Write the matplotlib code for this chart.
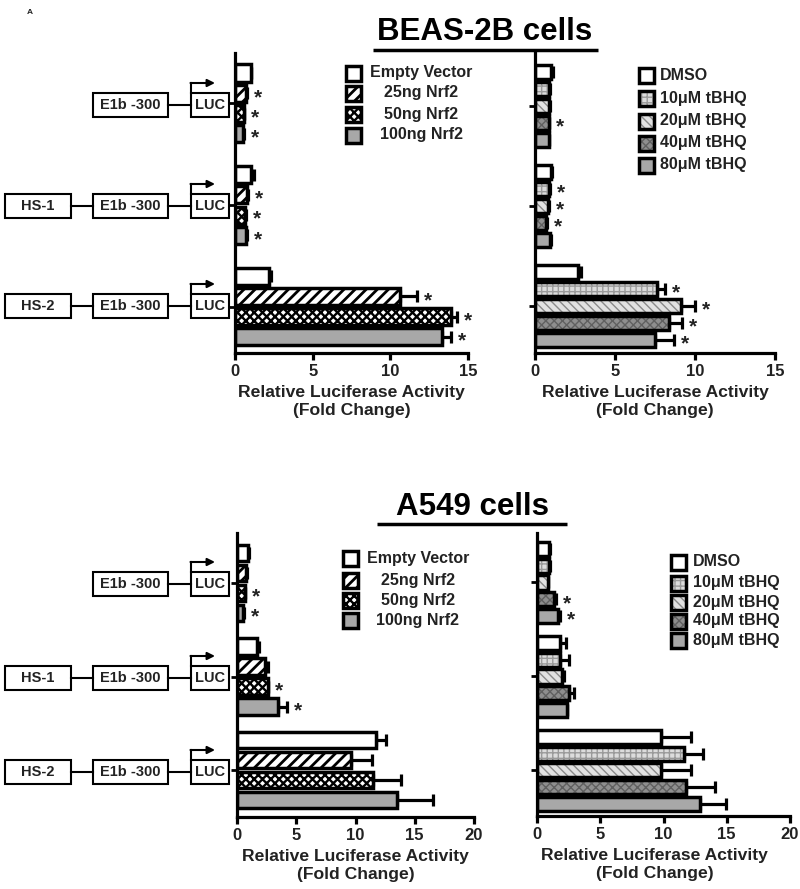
import matplotlib
matplotlib.use("Agg")
import matplotlib.pyplot as plt
from matplotlib.patches import Rectangle
import numpy as np

plt.rcParams['font.family'] = ['Liberation Sans', 'DejaVu Sans']
plt.rcParams['font.weight'] = 'bold'
plt.rcParams['axes.labelweight'] = 'bold'
plt.rcParams['hatch.linewidth'] = 1.0

# ---------------- data ----------------
constructs = ["E1b -300", "HS-1", "HS-2"]

nrf2_labels = ["Empty Vector", "25ng Nrf2", "50ng Nrf2", "100ng Nrf2"]
tbhq_labels = ["DMSO", "10\u03bcM tBHQ", "20\u03bcM tBHQ", "40\u03bcM tBHQ", "80\u03bcM tBHQ"]

# BEAS-2B, Nrf2 transfection (E1b-300, HS-1, HS-2)
beas_empty = [1.0, 1.05, 2.2]
beas_25ng = [0.7, 0.8, 10.6]
beas_50ng = [0.55, 0.65, 13.9]
beas_100ng = [0.5, 0.7, 13.3]
beas_empty_err = [0.05, 0.15, 0.1]
beas_25ng_err = [0.05, 0.05, 1.1]
beas_50ng_err = [0.05, 0.05, 0.4]
beas_100ng_err = [0.05, 0.05, 0.6]
beas_nrf2_sig = [[0, 0, 0], [1, 1, 1], [1, 1, 1], [1, 1, 1]]

# BEAS-2B, tBHQ
beas_dmso = [1.0, 1.0, 2.7]
beas_10uM = [0.9, 0.85, 7.6]
beas_20uM = [0.9, 0.8, 9.15]
beas_40uM = [0.85, 0.7, 8.4]
beas_80uM = [0.85, 0.95, 7.5]
beas_dmso_err = [0.1, 0.05, 0.2]
beas_10uM_err = [0.05, 0.1, 0.5]
beas_20uM_err = [0.05, 0.05, 0.85]
beas_40uM_err = [0.05, 0.05, 0.8]
beas_80uM_err = [0.05, 0.05, 1.2]
beas_tbhq_sig = [[0, 0, 0], [0, 1, 1], [0, 1, 1], [1, 1, 1], [0, 0, 1]]

# A549, Nrf2 transfection
a549_empty = [0.9, 1.7, 11.7]
a549_25ng = [0.8, 2.35, 9.6]
a549_50ng = [0.65, 2.6, 11.5]
a549_100ng = [0.5, 3.5, 13.5]
a549_empty_err = [0.15, 0.15, 0.85]
a549_25ng_err = [0.05, 0.3, 1.8]
a549_50ng_err = [0.05, 0.05, 2.35]
a549_100ng_err = [0.05, 0.75, 3.0]
a549_nrf2_sig = [[0, 0, 0], [0, 0, 0], [1, 1, 0], [1, 1, 0]]

# A549, tBHQ
a549_dmso = [0.95, 1.85, 9.8]
a549_10uM = [0.95, 1.85, 11.6]
a549_20uM = [0.85, 2.0, 9.8]
a549_40uM = [1.35, 2.5, 11.8]
a549_80uM = [1.65, 2.35, 12.9]
a549_dmso_err = [0.05, 0.45, 2.35]
a549_10uM_err = [0.05, 0.7, 1.5]
a549_20uM_err = [0.05, 0.15, 2.4]
a549_40uM_err = [0.15, 0.4, 2.3]
a549_80uM_err = [0.15, 0.05, 2.05]
a549_tbhq_sig = [[0, 0, 0], [0, 0, 0], [0, 0, 0], [1, 0, 0], [1, 0, 0]]

# ---------------- styles ----------------
nrf2_styles = [
    dict(face='white', hatch=None, hc='black', hlw=1.0),
    dict(face='white', hatch='///', hc='black', hlw=2.0),
    dict(face='white', hatch='xxxx', hc='black', hlw=1.7),
    dict(face='#a8a8a8', hatch=None, hc='black', hlw=1.0),
]
tbhq_styles = [
    dict(face='white', hatch=None, hc='black', hlw=1.0),
    dict(face='#dcdcdc', hatch='+++', hc='#9a9a9a', hlw=1.0),
    dict(face='#e2e2e2', hatch='\\\\\\\\', hc='#8a8a8a', hlw=1.0),
    dict(face='#8e8e8e', hatch='xxxx', hc='#606060', hlw=1.0),
    dict(face='#a8a8a8', hatch=None, hc='black', hlw=1.0),
]

W, H = 800, 889
fig = plt.figure(figsize=(W / 100, H / 100), dpi=100)
TXT = '#222222'
EDGE_LW = 2.5


def set_hlw(patch, lw):
    try:
        patch.set_hatch_linewidth(lw)
    except AttributeError:
        pass


def axes_px(x0, x1, y0, y1):
    return fig.add_axes([x0 / W, 1 - y1 / H, (x1 - x0) / W, (y1 - y0) / H])


def draw_panel(ax, series, errs, sigs, styles, G, ylim, xmax, xticks, bh=0.84):
    n = len(series)
    for i, (vals, err, sig, sty) in enumerate(zip(series, errs, sigs, styles)):
        y = np.arange(3) * G + i
        ax.errorbar(vals, y, xerr=[np.zeros(3), err], fmt='none', ecolor='black',
                    elinewidth=2.3, capsize=4, capthick=2.3, zorder=1)
        bars = ax.barh(y, vals, height=bh, color=sty['face'], edgecolor=sty['hc'],
                       hatch=sty['hatch'], linewidth=0, zorder=2)
        for p in bars:
            set_hlw(p, sty['hlw'])
        ax.barh(y, vals, height=bh, fill=False, edgecolor='black',
                linewidth=EDGE_LW, zorder=3)
        for k in range(3):
            if sig[k]:
                ax.annotate('*', xy=(vals[k] + err[k], y[k]), xytext=(5, -3),
                            textcoords='offset points', ha='left', va='center',
                            fontsize=15, color=TXT)
    ax.set_xlim(0, xmax)
    ax.set_ylim(ylim)
    for s in ['top', 'right']:
        ax.spines[s].set_visible(False)
    for s in ['left', 'bottom']:
        ax.spines[s].set_linewidth(2.3)
    ax.set_xticks(xticks)
    ax.set_yticks(np.arange(3) * G + (n - 1) / 2)
    ax.set_yticklabels([])
    ax.tick_params(axis='x', length=5, width=2.3, labelsize=12, pad=3,
                   labelcolor=TXT)
    ax.tick_params(axis='y', length=4.5, width=2)
    ax.set_xlabel('Relative Luciferase Activity\n(Fold Change)', fontsize=12.6,
                  fontweight='bold', color=TXT, labelpad=4, linespacing=1.3)
    ax.set_facecolor('none')


# top-left
ax1 = axes_px(235, 468, 53, 353)
draw_panel(ax1, [beas_empty, beas_25ng, beas_50ng, beas_100ng],
           [beas_empty_err, beas_25ng_err, beas_50ng_err, beas_100ng_err],
           beas_nrf2_sig, nrf2_styles, 5.0, (13.79, -0.985), 15, [0, 5, 10, 15])
# top-right
ax2 = axes_px(535, 775, 53, 353)
draw_panel(ax2, [beas_dmso, beas_10uM, beas_20uM, beas_40uM, beas_80uM],
           [beas_dmso_err, beas_10uM_err, beas_20uM_err, beas_40uM_err, beas_80uM_err],
           beas_tbhq_sig, tbhq_styles, 5.88, (16.53, -1.12), 15, [0, 5, 10, 15])
# bottom-left
ax3 = axes_px(237, 474, 533, 817)
draw_panel(ax3, [a549_empty, a549_25ng, a549_50ng, a549_100ng],
           [a549_empty_err, a549_25ng_err, a549_50ng_err, a549_100ng_err],
           a549_nrf2_sig, nrf2_styles, 4.675, (13.2, -1.0), 20, [0, 5, 10, 15, 20])
# bottom-right
ax4 = axes_px(537, 790, 533, 816)
draw_panel(ax4, [a549_dmso, a549_10uM, a549_20uM, a549_40uM, a549_80uM],
           [a549_dmso_err, a549_10uM_err, a549_20uM_err, a549_40uM_err, a549_80uM_err],
           a549_tbhq_sig, tbhq_styles, 5.61, (15.94, -0.955), 20, [0, 5, 10, 15, 20])
ax4.xaxis.label.set_x(0.466)

# ---------------- overlay (pixel coords) ----------------
ov = fig.add_axes([0, 0, 1, 1], zorder=10)
ov.set_xlim(0, W)
ov.set_ylim(H, 0)
ov.axis('off')


def box(x0, x1, yc, label):
    ov.add_patch(Rectangle((x0, yc - 12), x1 - x0, 24, facecolor='white',
                           edgecolor='black', linewidth=1.5))
    ov.text((x0 + x1) / 2, yc, label, ha='center', va='center', fontsize=10.5,
            color=TXT)


def construct(yc, hs=None):
    if hs is not None:
        box(5, 71, yc, hs)
        ov.plot([71, 93], [yc, yc], color='black', lw=1.5)
    box(93, 168, yc, constructs[0])
    ov.plot([168, 191], [yc, yc], color='black', lw=1.5)
    box(191, 229, yc, "LUC")
    ov.plot([191, 191], [yc - 12, yc - 22], color='black', lw=1.5)
    ov.annotate('', xy=(215, yc - 22), xytext=(190.5, yc - 22),
                arrowprops=dict(arrowstyle='-|>', lw=1.5, color='black',
                                mutation_scale=11, shrinkA=0, shrinkB=0))


for yc, hs in zip([105, 206, 306], [None, constructs[1], constructs[2]]):
    construct(yc, hs)
for yc, hs in zip([584, 678, 772], [None, constructs[1], constructs[2]]):
    construct(yc, hs)


def legend(xsq, xtxt, rows, labels, styles, ha='left'):
    for yc, lab, sty in zip(rows, labels, styles):
        p = Rectangle((xsq - 7.5, yc - 7.5), 15, 15, facecolor=sty['face'],
                      edgecolor=sty['hc'], hatch=sty['hatch'], linewidth=0)
        set_hlw(p, sty['hlw'])
        ov.add_patch(p)
        ov.add_patch(Rectangle((xsq - 7.5, yc - 7.5), 15, 15, fill=False,
                               edgecolor='black', linewidth=EDGE_LW))
        ov.text(xtxt, yc, lab, ha=ha, va='center', fontsize=11.5, color=TXT)


legend(353, 421, [73, 93, 114, 135], nrf2_labels, nrf2_styles, ha='center')
legend(646, 660, [75, 98, 121, 143, 165], tbhq_labels, tbhq_styles)
legend(350, 418, [558, 580, 600, 620], nrf2_labels, nrf2_styles, ha='center')
legend(678, 693, [562, 583, 602, 621, 640], tbhq_labels, tbhq_styles)

# titles
ov.text(30, 12, 'A', fontsize=6, ha='center', va='center', color=TXT)
ov.text(485, 32, 'BEAS-2B cells', fontsize=22.5, ha='center', va='center',
        color='black')
ov.plot([373, 598], [50, 50], color='black', lw=2.5, solid_capstyle='butt')
ov.text(472, 507, 'A549 cells', fontsize=22.5, ha='center', va='center',
        color='black')
ov.plot([377, 567], [524, 524], color='black', lw=2.5, solid_capstyle='butt')

fig.savefig('out.png', dpi=100)
